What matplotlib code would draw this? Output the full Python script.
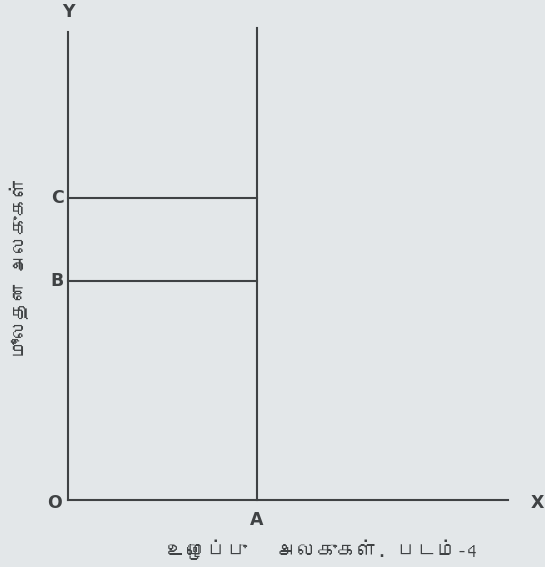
import numpy as np
import matplotlib
matplotlib.use("Agg")
import matplotlib.pyplot as plt
from matplotlib import font_manager
from matplotlib.ft2font import FT2Font

# points of the figure (units along each axis)
x_axis_end = 9.31
y_axis_end = 9.90
a_line_top = 9.99
labour_A = 4.0
capital_B = 4.63
capital_C = 6.39

point_labels = ["O", "A", "B", "C", "X", "Y"]
y_title = "மூலதன அலகுகள்"
x_title = "உழைப்பு   அலகுகள். படம்-4"


# look for an installed font that has Tamil glyphs
def tamil_font():
    for f in font_manager.fontManager.ttflist:
        try:
            if 0x0B89 in FT2Font(f.fname).get_charmap():
                return f.name
        except Exception:
            pass
    return None

tam = tamil_font()
tam_family = [tam, "DejaVu Sans"] if tam else ["DejaVu Sans"]

bg = "#e3e7e9"
ink = "#3f4244"

fig = plt.figure(figsize=(5.45, 5.67), dpi=100, facecolor=bg)
ax = fig.add_axes([0, 0, 1, 1])
ax.set_facecolor(bg)
ax.set_xlim(-1.439, 10.095)
ax.set_ylim(-1.418, 10.582)
ax.axis("off")

lw = 1.5
# axes
ax.plot([0, x_axis_end], [0, 0], color=ink, lw=lw)
ax.plot([0, 0], [0, y_axis_end], color=ink, lw=lw)
# vertical line through A
ax.plot([labour_A, labour_A], [0, a_line_top], color=ink, lw=lw)
# horizontal lines from B and C
ax.plot([0, labour_A], [capital_B, capital_B], color=ink, lw=lw)
ax.plot([0, labour_A], [capital_C, capital_C], color=ink, lw=lw)

fs = 12.5
txt = dict(color=ink, fontsize=fs, ha="center", va="center", fontweight="bold")
ax.text(-0.28, -0.06, point_labels[0], **txt)
ax.text(labour_A, -0.42, point_labels[1], **txt)
ax.text(-0.23, capital_B, point_labels[2], **txt)
ax.text(-0.23, capital_C, point_labels[3], **txt)
ax.text(x_axis_end + 0.62, -0.06, point_labels[4], **txt)
ax.text(0, y_axis_end + 0.43, point_labels[5], **txt)

fig.text(19 / 545, 1 - 267 / 567, y_title, rotation=90, ha="center", va="center",
         color=ink, fontsize=13.6, family=tam_family)
fig.text(322 / 545, 1 - 550 / 567, x_title, ha="center", va="center",
         color=ink, fontsize=14.4, family=tam_family)

fig.savefig("out.png", dpi=100, facecolor=bg)
